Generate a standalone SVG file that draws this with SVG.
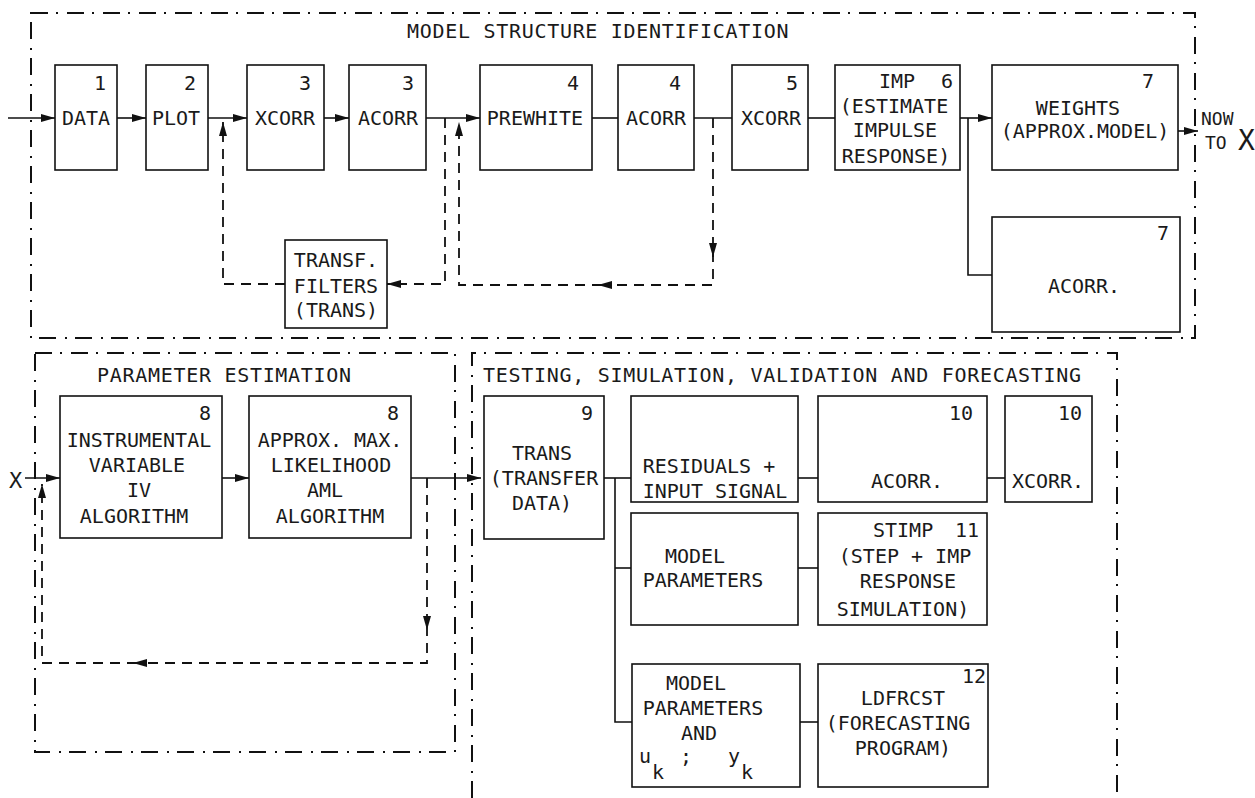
<svg xmlns="http://www.w3.org/2000/svg" width="1255" height="798" viewBox="0 0 1255 798">
<style>
.box{fill:none;stroke:#111;stroke-width:1.6}
.ln{fill:none;stroke:#111;stroke-width:1.6}
.dl{fill:none;stroke:#111;stroke-width:1.8;stroke-dasharray:10 7}
.bd{fill:none;stroke:#111;stroke-width:2;stroke-dasharray:17 8 2 9}
text{font-family:"DejaVu Sans Mono","Liberation Mono",monospace;font-size:20px;fill:#1a1a1a}
.c{text-anchor:middle}
.t{letter-spacing:0.7px}
.s{font-size:18px}
</style>
<defs>
<marker id="ah" viewBox="0 0 14 8" refX="14" refY="4" markerWidth="14" markerHeight="8" markerUnits="userSpaceOnUse" orient="auto">
<path d="M0,0 L14,4 L0,8 Z" fill="#111" stroke="none"/>
</marker>
</defs>
<rect width="1255" height="798" fill="#fff"/>

<g id="regions">
<path class="bd" d="M31,13 H1195 V338 H31 Z"/>
<path class="bd" d="M35,353 H455 V752 H35 Z"/>
<path class="bd" d="M472,798 V353 H1117 V798"/>
<text class="t" x="407" y="38">MODEL STRUCTURE IDENTIFICATION</text>
<text class="t" x="97" y="382">PARAMETER ESTIMATION</text>
<text class="t" x="483" y="382">TESTING, SIMULATION, VALIDATION AND FORECASTING</text>
</g>

<g id="connectors">
<path class="ln" d="M8,118 H55" marker-end="url(#ah)"/>
<path class="ln" d="M117,118 H146" marker-end="url(#ah)"/>
<path class="ln" d="M208,118 H247" marker-end="url(#ah)"/>
<path class="ln" d="M324,118 H349" marker-end="url(#ah)"/>
<path class="ln" d="M426,118 H480" marker-end="url(#ah)"/>
<path class="ln" d="M592,118 H618"/>
<path class="ln" d="M694,118 H732"/>
<path class="ln" d="M808,118 H835"/>
<path class="ln" d="M960,118 H992" marker-end="url(#ah)"/>
<path class="ln" d="M968,118 V275 H992"/>
<path class="ln" d="M1178,131 H1198" marker-end="url(#ah)"/>
<path class="dl" d="M445,118 V284 H387" marker-end="url(#ah)"/>
<path class="dl" d="M285,284 H223 V122" marker-end="url(#ah)"/>
<path class="dl" d="M713,118 V257" marker-end="url(#ah)"/>
<path class="dl" d="M713,252 V285 H598" marker-end="url(#ah)"/>
<path class="dl" d="M602,285 H459 V122" marker-end="url(#ah)"/>
<path class="ln" d="M25,478 H60" marker-end="url(#ah)"/>
<path class="ln" d="M222,478 H249" marker-end="url(#ah)"/>
<path class="ln" d="M411,478 H481" marker-end="url(#ah)"/>
<path class="dl" d="M427,478 V630" marker-end="url(#ah)"/>
<path class="dl" d="M427,626 V663 H133" marker-end="url(#ah)"/>
<path class="dl" d="M137,663 H42 V484" marker-end="url(#ah)"/>
<path class="ln" d="M604,478 H631"/>
<path class="ln" d="M615,478 V722 H632"/>
<path class="ln" d="M615,568 H631"/>
<path class="ln" d="M798,478 H818"/>
<path class="ln" d="M987,478 H1005"/>
<path class="ln" d="M798,568 H818"/>
<path class="ln" d="M800,722 H818"/>
</g>

<g id="n1"><rect class="box" x="55" y="65" width="62" height="105"/><text class="c" x="100" y="90">1</text><text class="c" x="86" y="125">DATA</text></g>
<g id="n2"><rect class="box" x="146" y="65" width="62" height="105"/><text class="c" x="190" y="90">2</text><text class="c" x="176" y="125">PLOT</text></g>
<g id="n3a"><rect class="box" x="247" y="65" width="77" height="105"/><text class="c" x="305" y="90">3</text><text class="c" x="285" y="125">XCORR</text></g>
<g id="n3b"><rect class="box" x="349" y="65" width="77" height="105"/><text class="c" x="408" y="90">3</text><text class="c" x="388" y="125">ACORR</text></g>
<g id="n4a"><rect class="box" x="480" y="65" width="112" height="105"/><text class="c" x="573" y="90">4</text><text class="c" x="535" y="125">PREWHITE</text></g>
<g id="n4b"><rect class="box" x="618" y="65" width="76" height="105"/><text class="c" x="675" y="90">4</text><text class="c" x="656" y="125">ACORR</text></g>
<g id="n5"><rect class="box" x="732" y="65" width="76" height="105"/><text class="c" x="792" y="90">5</text><text class="c" x="771" y="125">XCORR</text></g>
<g id="n6"><rect class="box" x="835" y="65" width="125" height="105"/><text x="879" y="88">IMP</text><text class="c" x="947" y="88">6</text><text class="c" x="894" y="113">(ESTIMATE</text><text class="c" x="895" y="137">IMPULSE</text><text class="c" x="896" y="163">RESPONSE)</text></g>
<g id="n7a"><rect class="box" x="992" y="65" width="186" height="105"/><text class="c" x="1148" y="88">7</text><text class="c" x="1078" y="115">WEIGHTS</text><text class="c" x="1085" y="138">(APPROX.MODEL)</text></g>
<g id="nowx"><text class="s" x="1201" y="125">NOW</text><text class="s" x="1205" y="149">TO</text><text x="1238" y="150" style="font-size:28px">X</text></g>
<g id="n7b"><rect class="box" x="992" y="217" width="188" height="115"/><text class="c" x="1163" y="240">7</text><text class="c" x="1084" y="293">ACORR.</text></g>
<g id="ntrans"><rect class="box" x="285" y="240" width="102" height="88"/><text class="c" x="336" y="267">TRANSF.</text><text class="c" x="336" y="293">FILTERS</text><text class="c" x="336" y="317">(TRANS)</text></g>

<g id="xin"><text x="9" y="488" style="font-size:22px">X</text></g>
<g id="n8a"><rect class="box" x="60" y="396" width="162" height="142"/><text class="c" x="205" y="420">8</text><text class="c" x="139" y="447">INSTRUMENTAL</text><text class="c" x="137" y="472">VARIABLE</text><text class="c" x="139" y="497">IV</text><text class="c" x="134" y="523">ALGORITHM</text></g>
<g id="n8b"><rect class="box" x="249" y="396" width="162" height="142"/><text class="c" x="393" y="420">8</text><text class="c" x="330" y="447">APPROX. MAX.</text><text class="c" x="331" y="472">LIKELIHOOD</text><text class="c" x="325" y="497">AML</text><text class="c" x="330" y="523">ALGORITHM</text></g>

<g id="n9"><rect class="box" x="484" y="396" width="120" height="143"/><text class="c" x="587" y="420">9</text><text class="c" x="542" y="460">TRANS</text><text class="c" x="544" y="485">(TRANSFER</text><text class="c" x="542" y="510">DATA)</text></g>
<g id="nres"><rect class="box" x="631" y="396" width="167" height="106"/><text class="c" x="709" y="473">RESIDUALS +</text><text class="c" x="715" y="498">INPUT SIGNAL</text></g>
<g id="n10a"><rect class="box" x="818" y="396" width="169" height="106"/><text class="c" x="961" y="420">10</text><text class="c" x="907" y="488">ACORR.</text></g>
<g id="n10b"><rect class="box" x="1005" y="396" width="87" height="106"/><text class="c" x="1070" y="420">10</text><text class="c" x="1048" y="488">XCORR.</text></g>
<g id="nmp"><rect class="box" x="631" y="513" width="167" height="112"/><text class="c" x="695" y="563">MODEL</text><text class="c" x="703" y="587">PARAMETERS</text></g>
<g id="n11"><rect class="box" x="818" y="513" width="169" height="112"/><text x="873" y="537">STIMP</text><text class="c" x="967" y="537">11</text><text class="c" x="905" y="563">(STEP + IMP</text><text class="c" x="908" y="588">RESPONSE</text><text class="c" x="903" y="616">SIMULATION)</text></g>
<g id="nmpa"><rect class="box" x="632" y="664" width="168" height="123"/><text class="c" x="696" y="690">MODEL</text><text class="c" x="703" y="715">PARAMETERS</text><text class="c" x="699" y="740">AND</text><text x="639" y="763">u</text><text x="652" y="779">k</text><text x="680" y="763">;</text><text x="728" y="763">y</text><text x="741" y="779">k</text></g>
<g id="n12"><rect class="box" x="818" y="664" width="170" height="123"/><text class="c" x="974" y="683">12</text><text class="c" x="903" y="705">LDFRCST</text><text class="c" x="898" y="730">(FORECASTING</text><text class="c" x="903" y="755">PROGRAM)</text></g>
</svg>
